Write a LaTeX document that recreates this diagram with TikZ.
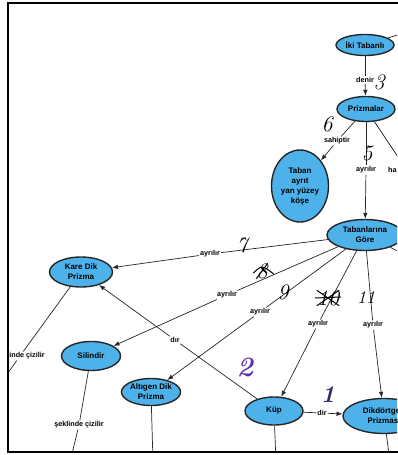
\documentclass[tikz,border=0pt]{standalone}
\usepackage{fontspec}
\newfontfamily\mapfont{Liberation Sans}
\usepackage{tikz}
\usetikzlibrary{arrows.meta,shapes.geometric,calc}

\definecolor{conceptblue}{RGB}{78,178,234}
\definecolor{penpurple}{RGB}{96,50,172}
\definecolor{pennavy}{RGB}{50,40,112}

\begin{document}
\begin{tikzpicture}[x=1pt,y=-1pt,
    concept/.style={ellipse, draw=black!85, line width=1.4pt, fill=conceptblue, inner sep=0pt, align=center, font=\mapfont\bfseries\fontsize{8}{10}\selectfont},
    linkword/.style={fill=white, inner sep=1pt, font=\mapfont\bfseries\fontsize{7.2}{8}\selectfont},
    link/.style={line width=0.7pt, black!85},
    arrowlink/.style={link, -{Latex[length=6pt,width=4.5pt]}},
    pen/.style={inner sep=0pt, font=\itshape\fontsize{22}{22}\selectfont}]

    \useasboundingbox (0,0) rectangle (397,455);
    \fill[white] (0,0) rectangle (397,455);

    \begin{scope}
    \clip (8,3) rectangle (397,452);

        % Concepts
        \node[concept, minimum width=58pt, minimum height=21pt] (iki) at (365,45) {İki Tabanlı};
        \node[concept, minimum width=58pt, minimum height=25pt] (prizma) at (366,109) {Prizmalar};
        \node[concept, minimum width=57pt, minimum height=72pt] (taban) at (300,186) {Taban\\ayrıt\\yan yüzey\\köşe};
        \node[concept, minimum width=76pt, minimum height=31pt] (gore) at (365,235) {Tabanlarına\\Göre};
        \node[concept, minimum width=63pt, minimum height=30pt] (kare) at (81,272) {Kare Dik\\Prizma};
        \node[concept, minimum width=59pt, minimum height=29pt] (silindir) at (91,356) {Silindir};
        \node[concept, minimum width=56pt, minimum height=27pt] (altigen) at (151,392) {Altıgen Dik\\Prizma};
        \node[concept, minimum width=58pt, minimum height=28pt] (kup) at (274,411) {Küp};
        \node[concept, minimum width=82pt, minimum height=35pt] (dikdortgen) at (384,416) {Dikdörtgen\\Prizması};

        % Linking words
        \node[linkword] (denir) at (365,80) {denir};
        \node[linkword] (sahip) at (337,141) {sahiptir};
        \node[linkword] (ay5) at (366,170) {ayrılır};
        \node[linkword, anchor=west] (ha) at (387,170) {ha};
        \node[linkword] (ay7) at (210,254) {ayrılır};
        \node[linkword] (ay8) at (227,295) {ayrılır};
        \node[linkword] (ay9) at (260,312) {ayrılır};
        \node[linkword] (ay10) at (318,324) {ayrılır};
        \node[linkword] (ay11) at (373,325) {ayrılır};
        \node[linkword] (dir2) at (175,340) {dır};
        \node[linkword] (dir1) at (322,413) {dir};
        \node[linkword] (cizkare) at (20,356) {şeklinde çizilir};
        \node[linkword] (cizsil) at (79,425) {şeklinde çizilir};

        % Loose ends
        \coordinate (ikiout) at (404,33);
        \coordinate (prizout) at (402,163);
        \coordinate (goreout) at (412,258);
        \coordinate (kareout) at (0,384);
        \coordinate (silout) at (70,462);
        \coordinate (altout) at (153,462);
        \coordinate (kupout) at (276,462);
        \coordinate (dikout) at (390,462);

        % Connectors
        \draw[link] (iki) -- (ikiout);
        \draw[link] (iki) -- (denir);
        \draw[arrowlink] (denir) -- (prizma);
        \draw[link] (prizma) -- (sahip);
        \draw[arrowlink] (sahip) -- (taban);
        \draw[link] (prizma) -- (ay5);
        \draw[arrowlink] (ay5) -- (gore);
        \draw[link] (prizma) -- (prizout);
        \draw[link] (gore) -- (goreout);

        \draw[link] (gore) -- (ay7);
        \draw[arrowlink] (ay7) -- (kare);
        \draw[link] (gore) -- (ay8);
        \draw[arrowlink] (ay8) -- (silindir);
        \draw[link] (gore) -- (ay9);
        \draw[arrowlink] (ay9) -- (altigen);
        \draw[link] (gore) -- (ay10);
        \draw[arrowlink] (ay10) -- (kup);
        \draw[link] (gore) -- (ay11);
        \draw[arrowlink] (ay11) -- (dikdortgen);

        \draw[link] (kup) -- (dir2);
        \draw[arrowlink] (dir2) -- (kare);
        \draw[link] (kup) -- (dir1);
        \draw[arrowlink] (dir1) -- (dikdortgen);

        \draw[link] (kare) -- (cizkare);
        \draw[link] (cizkare) -- (kareout);
        \draw[link] (silindir) -- (cizsil);
        \draw[link] (cizsil) -- (silout);
        \draw[link] (altigen) -- (altout);
        \draw[link] (kup) -- (kupout);
        \draw[link] (dikdortgen) -- (dikout);

        % Pen numbers
        \node[pen] (n3) at (379,82) {3};
        \node[pen] (n6) at (327,124) {6};
        \node[pen] (n5) at (367,153) {5};
        \node[pen] (n7) at (242,245) {7};
        \node[pen] (n8) at (262,271) {8};
        \draw[line width=1pt] (n8.south west) -- (n8.north east);
        \draw[line width=1pt] ($(n8.west)+(-3,2)$) .. controls ($(n8.center)+(0,-6)$) .. ($(n8.east)+(6,3)$);
        \node[pen] (n9) at (283,292) {9};
        \node[pen] (n10) at (328,298) {10};
        \draw[line width=1pt] (n10.south west) -- (n10.north east);
        \draw[line width=1pt] (n10.north west) -- (n10.south east);
        \draw[line width=1pt] ($(n10.west)+(-2,0)$) -- ($(n10.east)+(2,-1)$);
        \node[pen, font=\itshape\fontsize{18}{18}\selectfont] (n11) at (366,298) {11};
        \node[pen, text=penpurple, font=\itshape\bfseries\fontsize{28}{28}\selectfont] (n2) at (245,367) {2};
        \node[pen, text=pennavy, font=\itshape\bfseries\fontsize{24}{24}\selectfont] (n1) at (328,395) {1};
    \end{scope}

    % Frame
    \draw[line width=1.4pt] (8,3) rectangle (402,452);
\end{tikzpicture}
\end{document}
